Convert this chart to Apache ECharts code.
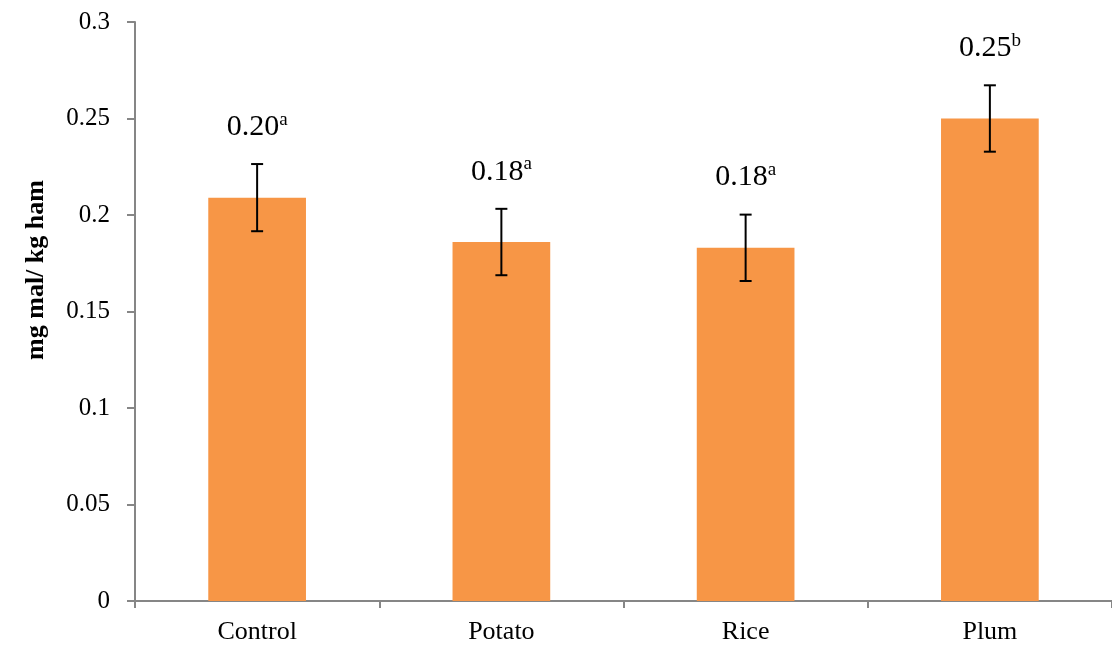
<!DOCTYPE html>
<html><head><meta charset="utf-8">
<script src="https://cdn.jsdelivr.net/npm/echarts@6/dist/echarts.min.js"></script>
<style>html,body{margin:0;padding:0;background:#fff}#c{width:1112px;height:648px}</style>
</head><body><div id="c"></div>
<script>
const categories = ['Control', 'Potato', 'Rice', 'Plum'];
const values = [0.209, 0.186, 0.183, 0.250];
const errors = [0.0174, 0.0172, 0.0172, 0.0172];
const labelMain = ['0.20', '0.18', '0.18', '0.25'];
const labelSup = ['a', 'a', 'a', 'b'];
const yTicks = [0, 0.05, 0.1, 0.15, 0.2, 0.25, 0.3];

const font = 'Liberation Serif';
const chart = echarts.init(document.getElementById('c'));
chart.setOption({
  animation: false,
  grid: { left: 135, right: 0, top: 22, bottom: 47 },
  xAxis: {
    type: 'category', data: categories,
    axisLine: { lineStyle: { color: '#868686', width: 2 } },
    axisTick: { show: true, length: 7, alignWithLabel: false, lineStyle: { color: '#868686', width: 2 } },
    axisLabel: { color: '#000', fontFamily: font, fontSize: 26, margin: 18 }
  },
  yAxis: {
    type: 'value', min: 0, max: 0.3, interval: 0.05,
    axisLine: { show: true, lineStyle: { color: '#868686', width: 2 } },
    axisTick: { show: true, length: 8, lineStyle: { color: '#868686', width: 2 } },
    splitLine: { show: false },
    axisLabel: { color: '#000', fontFamily: font, fontSize: 25, margin: 25,
      formatter: v => { const t = yTicks.find(x => Math.abs(x - v) < 1e-9); return t === undefined ? '' : String(t); } }
  },
  graphic: [{
    type: 'text', x: 36, y: 270, rotation: Math.PI / 2,
    style: { text: 'mg mal/ kg ham', font: 'bold 26px "Liberation Serif"', fill: '#000', align: 'center', verticalAlign: 'middle' }
  }],
  series: [{
    type: 'bar', data: values, barWidth: '40%', z: 2,
    itemStyle: { color: '#F79646' }
  }, {
    type: 'custom', z: 5,
    data: values.map((v, i) => [i, v - errors[i], v + errors[i]]),
    renderItem: (params, api) => {
      const i = api.value(0);
      const lo = api.coord([i, api.value(1)]);
      const hi = api.coord([i, api.value(2)]);
      const x = lo[0], cap = 6;
      const st = { stroke: '#000', lineWidth: 2 };
      return { type: 'group', children: [
        { type: 'line', shape: { x1: x, y1: lo[1], x2: x, y2: hi[1] }, style: st },
        { type: 'line', shape: { x1: x - cap, y1: lo[1], x2: x + cap, y2: lo[1] }, style: st },
        { type: 'line', shape: { x1: x - cap, y1: hi[1], x2: x + cap, y2: hi[1] }, style: st },
        { type: 'text', x: x, y: hi[1] - 38, style: {
            text: '{m|' + labelMain[i] + '}{s|' + labelSup[i] + '}',
            align: 'center', verticalAlign: 'middle',
            rich: {
              m: { fontFamily: font, fontSize: 30, fill: '#000', verticalAlign: 'bottom', lineHeight: 32 },
              s: { fontFamily: font, fontSize: 19, fill: '#000', verticalAlign: 'top', lineHeight: 32, padding: [0, 0, 14, 0] }
            } } }
      ] };
    }
  }]
});
</script></body></html>
